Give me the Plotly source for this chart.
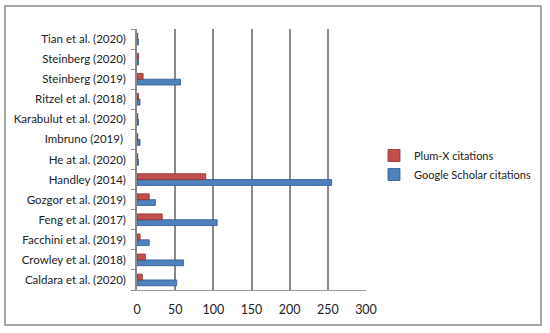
import plotly.graph_objects as go

categories = ["Caldara et al. (2020)", "Crowley et al. (2018)", "Facchini et al. (2019)",
              "Feng et al. (2017)", "Gozgor et al. (2019)", "Handley (2014)",
              "He at al. (2020)", "Imbruno (2019) ", "Karabulut et al. (2020)",
              "Ritzel et al. (2018)", "Steinberg (2019)", "Steinberg (2020)", "Tian et al. (2020)"]
google_scholar = [52, 61, 16, 105, 24, 255, 2, 4, 2, 4, 57, 2, 2]
plum_x = [7, 11, 4, 33, 16, 90, 1, 1, 1, 2, 8, 2, 1]
x_ticks = [0, 50, 100, 150, 200, 250, 300]

W, H = 550, 333
L, R, T, B = 137, 184, 29, 43
pw, ph = W - L - R, H - T - B

def px_x(px):
    return (px - L) / pw

def px_y(py):
    return (H - B - py) / ph

fig = go.Figure()
fig.add_trace(go.Bar(y=categories, x=google_scholar, orientation="h",
                     name="Google Scholar citations",
                     marker=dict(color="#4F81BD", line=dict(color="#2c5a8f", width=0.8))))
fig.add_trace(go.Bar(y=categories, x=plum_x, orientation="h",
                     name="Plum-X citations",
                     marker=dict(color="#C0504D", line=dict(color="#8e2f2c", width=0.8))))

fig.update_layout(
    width=W, height=H,
    margin=dict(l=L, r=R, t=T, b=B, autoexpand=False),
    barmode="group", bargap=0.42, bargroupgap=0.0,
    plot_bgcolor="white", paper_bgcolor="white",
    font=dict(family="Lato, Carlito, Calibri, sans-serif", size=11.5, color="#222"),
    showlegend=True,
    legend=dict(traceorder="reversed", xref="container", yref="container",
                x=374 / W, y=1 - 141 / H, xanchor="left", yanchor="top",
                font=dict(size=11), itemwidth=30, bgcolor="rgba(0,0,0,0)"),
    xaxis=dict(range=[0, 300], tickvals=x_ticks, showgrid=True, gridcolor="#8a8a8a", gridwidth=1.5,
               zeroline=False, showline=True, linecolor="#9a9a9a", linewidth=1,
               ticks="", ticklabelstandoff=8, tickfont=dict(size=12.5)),
    yaxis=dict(categoryorder="array", categoryarray=categories, showline=True, linecolor="#8a8a8a",
               linewidth=1.5, ticks="outside", ticklen=4, tickcolor="#8a8a8a", tickson="boundaries",
               ticklabelstandoff=7, showgrid=False),
    shapes=[dict(type="rect", xref="paper", yref="paper",
                 x0=px_x(5), x1=px_x(541), y0=px_y(325), y1=px_y(6),
                 line=dict(color="#8a8a8a", width=1.5))],
)

fig.write_html("out.html", config={"displayModeBar": False},
               post_script="document.body.style.margin='0';document.body.style.overflow='hidden';")
